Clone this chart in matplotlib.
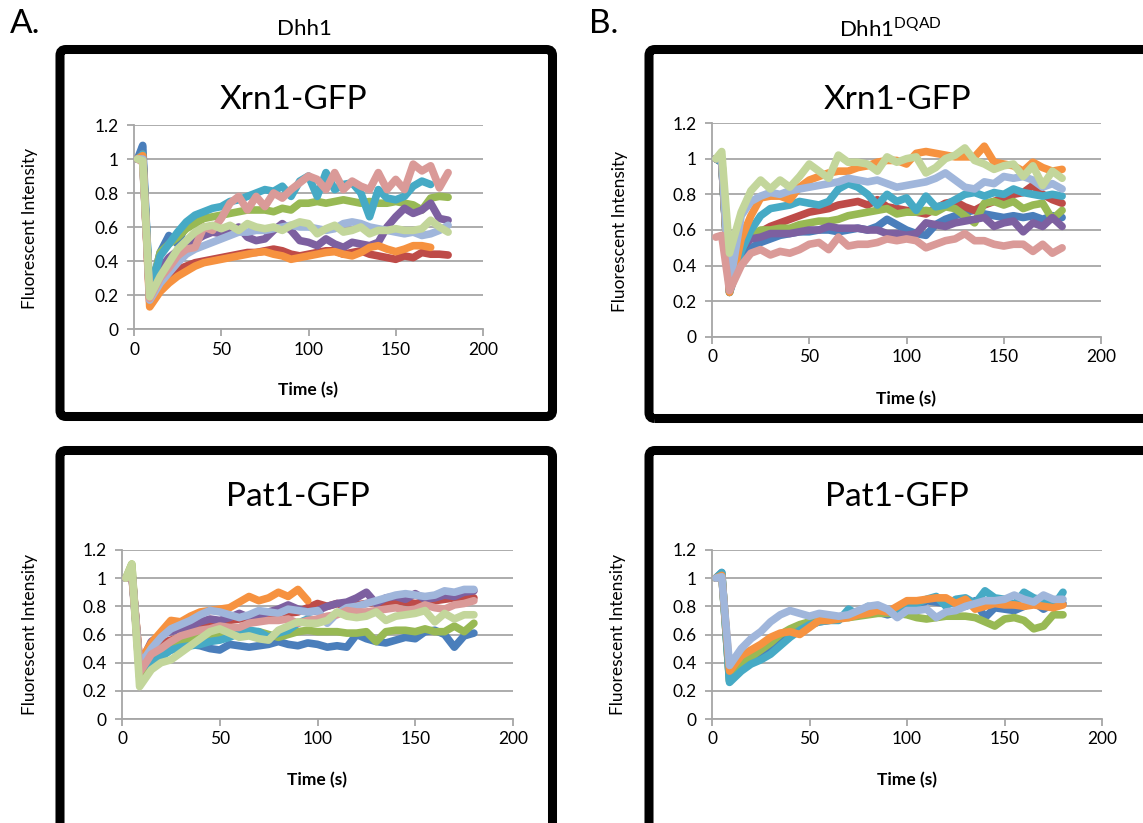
import matplotlib
matplotlib.use("Agg")
import matplotlib.pyplot as plt
from matplotlib.patches import FancyBboxPatch
from matplotlib.ticker import FuncFormatter

plt.rcParams['font.family'] = ['Lato', 'DejaVu Sans']

# time points (s), shared by every panel
T = [2, 5, 9, 15, 20, 25, 30, 35, 40, 45, 50, 55, 60, 65, 70, 75, 80, 85, 90,
     95, 100, 105, 110, 115, 120, 125, 130, 135, 140, 145, 150, 155, 160, 165,
     170, 175, 180]

# --- A. Dhh1, Xrn1-GFP ---
xa_blue = [1.0, 1.08, 0.2, 0.45, 0.55, 0.50, 0.62, 0.66, 0.68]
xa_red = [1.0, 1.03, 0.16, 0.28, 0.32, 0.35, 0.37, 0.39, 0.40, 0.41, 0.42, 0.43, 0.44, 0.45, 0.45, 0.46,
          0.47, 0.46, 0.44, 0.43, 0.44, 0.45, 0.46, 0.46, 0.44, 0.45, 0.46, 0.44, 0.43, 0.42, 0.41, 0.43,
          0.42, 0.45, 0.44, 0.44, 0.435]
xa_green = [1.0, 1.0, 0.2, 0.45, 0.50, 0.54, 0.59, 0.62, 0.65, 0.66, 0.67, 0.68, 0.69, 0.70, 0.70, 0.70,
            0.69, 0.71, 0.70, 0.74, 0.74, 0.75, 0.74, 0.75, 0.76, 0.75, 0.74, 0.75, 0.74, 0.74, 0.75, 0.74,
            0.73, 0.70, 0.77, 0.78, 0.775]
xa_purple = [1.0, 1.0, 0.18, 0.35, 0.42, 0.46, 0.50, 0.52, 0.55, 0.57, 0.56, 0.58, 0.60, 0.54, 0.52, 0.53,
             0.58, 0.62, 0.58, 0.52, 0.51, 0.49, 0.53, 0.50, 0.48, 0.51, 0.50, 0.49, 0.51, 0.60, 0.66, 0.71,
             0.68, 0.70, 0.74, 0.65, 0.64]
xa_aqua = [1.0, 1.03, 0.22, 0.43, 0.50, 0.57, 0.63, 0.67, 0.69, 0.71, 0.72, 0.75, 0.76, 0.78, 0.80, 0.82,
           0.81, 0.84, 0.78, 0.87, 0.90, 0.78, 0.92, 0.82, 0.85, 0.86, 0.80, 0.66, 0.82, 0.77, 0.76, 0.78,
           0.84, 0.87, 0.85]
xa_orange = [1.0, 1.02, 0.13, 0.22, 0.27, 0.31, 0.34, 0.37, 0.39, 0.40, 0.41, 0.42, 0.43, 0.44, 0.45, 0.455,
             0.44, 0.43, 0.41, 0.42, 0.43, 0.44, 0.45, 0.455, 0.44, 0.43, 0.45, 0.48, 0.49, 0.47, 0.455, 0.47,
             0.49, 0.49, 0.48]
xa_ltblue = [1.0, 1.0, 0.17, 0.27, 0.33, 0.39, 0.44, 0.47, 0.49, 0.51, 0.53, 0.55, 0.57, 0.57, 0.58, 0.58,
             0.59, 0.60, 0.61, 0.60, 0.60, 0.59, 0.58, 0.59, 0.62, 0.63, 0.62, 0.60, 0.59, 0.58, 0.57, 0.56,
             0.57, 0.55, 0.56, 0.58, 0.61]
xa_pink = [1.0, 0.98, 0.18, 0.30, 0.36, 0.43, 0.47, 0.48, 0.60, 0.58, 0.65, 0.74, 0.78, 0.70, 0.78, 0.72,
           0.80, 0.77, 0.82, 0.86, 0.90, 0.88, 0.82, 0.92, 0.82, 0.87, 0.84, 0.82, 0.92, 0.82, 0.88, 0.82,
           0.97, 0.93, 0.96, 0.83, 0.92]
xa_ltgreen = [1.0, 0.99, 0.19, 0.31, 0.39, 0.47, 0.52, 0.57, 0.60, 0.61, 0.59, 0.61, 0.58, 0.62, 0.60, 0.59,
              0.60, 0.58, 0.61, 0.63, 0.62, 0.56, 0.59, 0.61, 0.57, 0.58, 0.60, 0.56, 0.58, 0.58, 0.59, 0.58,
              0.58, 0.59, 0.64, 0.60, 0.57]

# --- B. Dhh1 DQAD, Xrn1-GFP ---
xb_blue = [1.0, 1.0, 0.25, 0.45, 0.50, 0.53, 0.55, 0.57, 0.58, 0.59, 0.59, 0.60, 0.60, 0.59, 0.60, 0.61,
           0.60, 0.62, 0.66, 0.63, 0.60, 0.58, 0.57, 0.63, 0.66, 0.68, 0.70, 0.71, 0.69, 0.68, 0.67, 0.68,
           0.67, 0.68, 0.66, 0.68, 0.67]
xb_red = [1.0, 0.98, 0.26, 0.49, 0.56, 0.59, 0.62, 0.64, 0.66, 0.68, 0.70, 0.71, 0.72, 0.74, 0.75, 0.76,
          0.74, 0.77, 0.73, 0.72, 0.71, 0.70, 0.69, 0.72, 0.75, 0.76, 0.73, 0.71, 0.74, 0.76, 0.78, 0.80,
          0.81, 0.85, 0.80, 0.77, 0.75]
xb_green = [1.0, 0.98, 0.25, 0.54, 0.57, 0.60, 0.60, 0.61, 0.61, 0.63, 0.64, 0.65, 0.65, 0.66, 0.68, 0.69,
            0.70, 0.71, 0.72, 0.69, 0.70, 0.70, 0.71, 0.70, 0.73, 0.72, 0.68, 0.64, 0.75, 0.76, 0.74, 0.76,
            0.72, 0.74, 0.75, 0.66, 0.71]
xb_purple = [1.0, 0.98, 0.26, 0.50, 0.55, 0.56, 0.58, 0.58, 0.58, 0.59, 0.60, 0.60, 0.62, 0.61, 0.61, 0.61,
             0.60, 0.60, 0.58, 0.58, 0.57, 0.58, 0.64, 0.63, 0.62, 0.64, 0.65, 0.66, 0.67, 0.62, 0.64, 0.65,
             0.59, 0.64, 0.62, 0.67, 0.62]
xb_aqua = [1.0, 0.98, 0.25, 0.48, 0.60, 0.68, 0.72, 0.73, 0.74, 0.76, 0.75, 0.74, 0.76, 0.83, 0.86, 0.84,
           0.80, 0.74, 0.80, 0.76, 0.78, 0.71, 0.79, 0.73, 0.74, 0.77, 0.80, 0.81, 0.79, 0.81, 0.80, 0.83,
           0.81, 0.80, 0.79, 0.80, 0.79]
xb_orange = [1.0, 1.0, 0.25, 0.55, 0.68, 0.78, 0.79, 0.79, 0.77, 0.84, 0.88, 0.90, 0.92, 0.93, 0.93, 0.95,
             0.96, 0.98, 0.99, 0.99, 0.97, 1.03, 1.04, 1.03, 1.02, 1.01, 1.01, 1.01, 1.07, 0.98, 0.97, 0.96,
             0.93, 0.98, 0.95, 0.93, 0.94]
xb_ltblue = [1.0, 1.0, 0.28, 0.68, 0.76, 0.79, 0.81, 0.80, 0.82, 0.83, 0.84, 0.85, 0.86, 0.87, 0.89, 0.88,
             0.87, 0.88, 0.86, 0.84, 0.85, 0.86, 0.87, 0.89, 0.92, 0.88, 0.84, 0.83, 0.87, 0.86, 0.90, 0.89,
             0.90, 0.88, 0.84, 0.86, 0.83]
xb_pink = [0.56, 0.57, 0.26, 0.40, 0.47, 0.49, 0.46, 0.48, 0.47, 0.49, 0.52, 0.53, 0.49, 0.56, 0.51, 0.52,
           0.52, 0.53, 0.55, 0.54, 0.55, 0.54, 0.50, 0.52, 0.54, 0.55, 0.58, 0.54, 0.54, 0.52, 0.51, 0.52,
           0.52, 0.48, 0.52, 0.47, 0.50]
xb_ltgreen = [1.0, 1.04, 0.47, 0.70, 0.82, 0.88, 0.83, 0.88, 0.84, 0.90, 0.97, 0.93, 0.89, 1.02, 0.98, 0.98,
              0.97, 0.93, 1.01, 0.98, 1.0, 1.01, 0.92, 0.95, 1.0, 1.02, 1.06, 0.99, 0.97, 0.94, 0.96, 0.97,
              0.90, 0.96, 0.85, 0.93, 0.89]

# --- A. Dhh1, Pat1-GFP ---
pa_blue = [1.0, 1.05, 0.35, 0.44, 0.47, 0.49, 0.51, 0.53, 0.52, 0.50, 0.49, 0.53, 0.52, 0.51, 0.52, 0.53,
           0.55, 0.53, 0.52, 0.54, 0.53, 0.51, 0.52, 0.51, 0.60, 0.57, 0.55, 0.54, 0.56, 0.58, 0.57, 0.62,
           0.63, 0.60, 0.51, 0.59, 0.61]
pa_red = [1.0, 1.03, 0.40, 0.50, 0.54, 0.56, 0.58, 0.62, 0.65, 0.68, 0.68, 0.70, 0.71, 0.72, 0.72, 0.73,
          0.74, 0.75, 0.76, 0.79, 0.82, 0.80, 0.82, 0.80, 0.81, 0.82, 0.83, 0.82, 0.84, 0.83, 0.82, 0.83,
          0.84, 0.85, 0.86, 0.87, 0.86]
pa_green = [1.0, 1.10, 0.30, 0.44, 0.50, 0.53, 0.55, 0.57, 0.58, 0.58, 0.59, 0.60, 0.60, 0.61, 0.62, 0.60,
            0.58, 0.60, 0.62, 0.63, 0.62, 0.62, 0.62, 0.61, 0.61, 0.62, 0.55, 0.62, 0.63, 0.63, 0.62, 0.64,
            0.62, 0.62, 0.66, 0.62, 0.68]
pa_purple = [1.0, 1.05, 0.38, 0.55, 0.60, 0.62, 0.64, 0.66, 0.69, 0.71, 0.70, 0.72, 0.75, 0.72, 0.73, 0.76,
             0.78, 0.81, 0.78, 0.76, 0.77, 0.80, 0.82, 0.83, 0.86, 0.90, 0.82, 0.86, 0.87, 0.85, 0.89, 0.85,
             0.86, 0.88, 0.87, 0.90, 0.91]
pa_aqua = [1.0, 1.04, 0.36, 0.40, 0.44, 0.49, 0.51, 0.52, 0.53, 0.55, 0.56, 0.58, 0.61, 0.63, 0.62, 0.58,
           0.61, 0.63, 0.68, 0.71, 0.70]
pa_orange = [1.0, 1.05, 0.40, 0.54, 0.62, 0.70, 0.69, 0.73, 0.76, 0.77, 0.78, 0.79, 0.83, 0.87, 0.84, 0.86,
             0.90, 0.87, 0.92, 0.84]
pa_ltblue = [1.0, 1.05, 0.38, 0.50, 0.58, 0.64, 0.67, 0.70, 0.74, 0.77, 0.76, 0.74, 0.72, 0.74, 0.77, 0.76,
             0.75, 0.78, 0.77, 0.76, 0.77, 0.68, 0.75, 0.79, 0.80, 0.82, 0.84, 0.86, 0.88, 0.89, 0.88, 0.87,
             0.88, 0.91, 0.90, 0.92, 0.92]
pa_pink = [1.0, 1.03, 0.33, 0.46, 0.50, 0.55, 0.59, 0.61, 0.63, 0.64, 0.66, 0.65, 0.65, 0.68, 0.69, 0.70,
           0.70, 0.71, 0.68, 0.70, 0.71, 0.73, 0.74, 0.77, 0.76, 0.76, 0.77, 0.78, 0.79, 0.77, 0.78, 0.81,
           0.79, 0.78, 0.81, 0.82, 0.84]
pa_ltgreen = [1.0, 1.10, 0.23, 0.35, 0.40, 0.42, 0.47, 0.52, 0.57, 0.62, 0.64, 0.61, 0.58, 0.59, 0.57, 0.56,
              0.63, 0.66, 0.69, 0.68, 0.68, 0.70, 0.76, 0.73, 0.72, 0.73, 0.76, 0.70, 0.73, 0.74, 0.75, 0.77,
              0.69, 0.75, 0.71, 0.74, 0.74]

# --- B. Dhh1 DQAD, Pat1-GFP ---
pb_blue = [1.0, 1.04, 0.27, 0.38, 0.42, 0.46, 0.51, 0.56, 0.61, 0.64, 0.67, 0.69, 0.70, 0.71, 0.74, 0.75,
           0.77, 0.76, 0.74, 0.76, 0.78, 0.79, 0.84, 0.83, 0.82, 0.83, 0.80, 0.84, 0.72, 0.79, 0.78, 0.77,
           0.80, 0.83, 0.78, 0.82, 0.82]
pb_green = [1.0, 1.03, 0.27, 0.39, 0.44, 0.49, 0.54, 0.60, 0.64, 0.67, 0.69, 0.70, 0.71, 0.72, 0.72, 0.73,
            0.74, 0.75, 0.75, 0.75, 0.74, 0.72, 0.71, 0.72, 0.73, 0.73, 0.73, 0.72, 0.69, 0.66, 0.71, 0.72,
            0.70, 0.64, 0.66, 0.74, 0.74]
pb_aqua = [1.0, 1.04, 0.26, 0.34, 0.39, 0.42, 0.46, 0.52, 0.58, 0.63, 0.67, 0.69, 0.70, 0.70, 0.78, 0.74,
           0.80, 0.78, 0.76, 0.78, 0.80, 0.82, 0.85, 0.87, 0.80, 0.85, 0.86, 0.82, 0.91, 0.86, 0.85, 0.81,
           0.90, 0.86, 0.84, 0.80, 0.90]
pb_orange = [1.0, 1.02, 0.34, 0.45, 0.49, 0.53, 0.58, 0.61, 0.62, 0.60, 0.65, 0.70, 0.70, 0.71, 0.72, 0.74,
             0.75, 0.77, 0.76, 0.80, 0.84, 0.84, 0.85, 0.86, 0.86, 0.82, 0.85, 0.78, 0.80, 0.82, 0.81, 0.81,
             0.80, 0.81, 0.80, 0.79, 0.81]
pb_ltblue = [1.0, 1.01, 0.38, 0.50, 0.57, 0.62, 0.69, 0.74, 0.77, 0.75, 0.73, 0.75, 0.74, 0.73, 0.74, 0.77,
             0.80, 0.81, 0.78, 0.72, 0.77, 0.77, 0.78, 0.72, 0.76, 0.77, 0.80, 0.82, 0.84, 0.84, 0.85, 0.88,
             0.85, 0.83, 0.88, 0.85, 0.85]

BLUE, RED, GREEN, PURPLE = '#4A7EBB', '#BE4B48', '#98B954', '#7D60A0'
AQUA, ORANGE = '#46AAC5', '#F69240'
LTBLUE, PINK, LTGREEN = '#A0B6DB', '#DA9A98', '#C3D69B'

W, H = 1143, 823
fig = plt.figure(figsize=(W / 100, H / 100), dpi=100)


def px_axes(x0, x1, ytop, ybot):
    return fig.add_axes([x0 / W, 1 - ybot / H, (x1 - x0) / W, (ybot - ytop) / H])


def ftext(x, y, s, **kw):
    # figure text placed in pixel coords measured from the top-left
    fig.text(x / W, 1 - y / H, s, ha='center', va='center', zorder=5, **kw)


def frame(x0, y0, x1, y1):
    # thick rounded border, pixel coords from top-left
    box = FancyBboxPatch((x0 / 100, (H - y1) / 100), (x1 - x0) / 100, (y1 - y0) / 100,
                         boxstyle="round,pad=0,rounding_size=0.06",
                         transform=fig.dpi_scale_trans, lw=6.5, ec='black', fc='none')
    fig.patches.append(box)


def panel(ax, series):
    for vals, col in series:
        ax.plot(T[:len(vals)], vals, color=col, lw=5.5, solid_joinstyle='round',
                solid_capstyle='round', zorder=3)
    ax.set_xlim(0, 200)
    ax.set_ylim(0, 1.2)
    ax.set_xticks([0, 50, 100, 150, 200])
    ax.set_yticks([0, 0.2, 0.4, 0.6, 0.8, 1.0, 1.2])
    ax.yaxis.set_major_formatter(FuncFormatter(lambda v, p: f'{v:g}'))
    ax.grid(axis='y', color='#A6A6A6', lw=1.3, zorder=0)
    for s in ['top', 'right']:
        ax.spines[s].set_visible(False)
    for s in ['left', 'bottom']:
        ax.spines[s].set_color('#A6A6A6')
        ax.spines[s].set_linewidth(1.3)
    ax.tick_params(axis='both', colors='#A6A6A6', labelcolor='black', labelsize=12.5,
                   length=5, width=1.3, direction='out')
    ax.tick_params(axis='y', pad=6)
    ax.tick_params(axis='x', pad=4)


xa_series = [(xa_blue, BLUE), (xa_red, RED), (xa_green, GREEN), (xa_purple, PURPLE),
             (xa_aqua, AQUA), (xa_orange, ORANGE), (xa_ltblue, LTBLUE), (xa_pink, PINK),
             (xa_ltgreen, LTGREEN)]
xb_series = [(xb_blue, BLUE), (xb_red, RED), (xb_green, GREEN), (xb_purple, PURPLE),
             (xb_aqua, AQUA), (xb_orange, ORANGE), (xb_ltblue, LTBLUE), (xb_pink, PINK),
             (xb_ltgreen, LTGREEN)]
pa_series = [(pa_blue, BLUE), (pa_red, RED), (pa_green, GREEN), (pa_purple, PURPLE),
             (pa_aqua, AQUA), (pa_orange, ORANGE), (pa_ltblue, LTBLUE), (pa_pink, PINK),
             (pa_ltgreen, LTGREEN)]
pb_series = [(pb_blue, BLUE), (pb_green, GREEN), (pb_aqua, AQUA), (pb_orange, ORANGE),
             (pb_ltblue, LTBLUE)]

ax1 = px_axes(134, 483, 125, 329)
panel(ax1, xa_series)
ax2 = px_axes(712, 1101, 123, 337)
panel(ax2, xb_series)
ax3 = px_axes(122, 513, 550, 719)
panel(ax3, pa_series)
ax4 = px_axes(712, 1102, 550, 719)
panel(ax4, pb_series)

frame(60, 49.5, 552.5, 416.5)
frame(649, 49.5, 1160, 418.5)
frame(60, 450.5, 552.5, 840)
frame(649, 450.5, 1160, 840)

# panel titles
ftext(293, 100, 'Xrn1-GFP', fontsize=24)
ftext(897, 100, 'Xrn1-GFP', fontsize=24)
ftext(298, 497, 'Pat1-GFP', fontsize=24)
ftext(897, 497, 'Pat1-GFP', fontsize=24)

# axis titles
for x, y in [(30, 228), (620, 231), (30, 634), (618, 634)]:
    ftext(x, y, 'Fluorescent Intensity', fontsize=12.5, rotation=90)
for x, y in [(308, 390), (906, 399), (317, 780), (907, 780)]:
    ftext(x, y, 'Time (s)', fontsize=12.5, fontweight='bold')

ftext(25, 24, 'A.', fontsize=24)
ftext(604, 24, 'B.', fontsize=24)
ftext(304, 29, 'Dhh1', fontsize=16)
ftext(890, 29, r'Dhh1$^{\mathregular{DQAD}}$', fontsize=16)

fig.savefig('out.png', dpi=100)
